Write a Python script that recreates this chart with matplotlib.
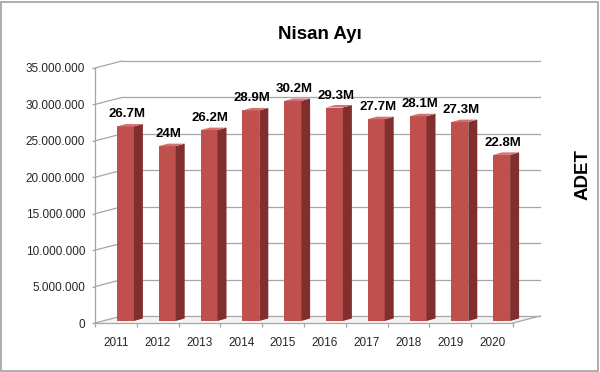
# Nisan Ayi - yearly counts, drawn as a fake 3D column chart (Excel look)
import numpy as np
import matplotlib
matplotlib.use('Agg')
import matplotlib.pyplot as plt
import matplotlib.transforms as mtransforms
from matplotlib.patches import Polygon, Rectangle

# data
years = ['2011', '2012', '2013', '2014', '2015', '2016', '2017', '2018', '2019', '2020']
values = [26.7e6, 24.0e6, 26.2e6, 28.9e6, 30.2e6, 29.3e6, 27.7e6, 28.1e6, 27.3e6, 22.8e6]
bar_labels = ['26.7M', '24M', '26.2M', '28.9M', '30.2M', '29.3M', '27.7M', '28.1M', '27.3M', '22.8M']
y_ticks = [0, 5e6, 10e6, 15e6, 20e6, 25e6, 30e6, 35e6]

plt.rcParams['font.family'] = ['Liberation Sans', 'DejaVu Sans']

W, H, DPI = 600, 372, 100
fig = plt.figure(figsize=(W / DPI, H / DPI), dpi=DPI)

# front plane of the plot box, in pixels
left_px, right_px, top_px, bottom_px = 95, 513, 68, 323
ax = fig.add_axes([left_px / W, 1 - bottom_px / H,
                   (right_px - left_px) / W, (bottom_px - top_px) / H])
n = len(years)
ymax = 35e6
ax.set_xlim(0, n)
ax.set_ylim(0, ymax)

# pixel -> data conversion
px_x = n / (right_px - left_px)
px_y = ymax / (bottom_px - top_px)

def shifted(dx, dy):
    return ax.transData + mtransforms.ScaledTranslation(dx / DPI, dy / DPI, fig.dpi_scale_trans)

grid_c = '#a6a6a6'
depth = (27, 7)   # back wall offset in px

# back wall grid and left wall diagonals
back = shifted(*depth)
for t in y_ticks:
    ax.plot([0, n], [t, t], color=grid_c, lw=0.9, transform=back, zorder=1, clip_on=False)
    ax.plot([0, depth[0] * px_x], [t, t + depth[1] * px_y], color=grid_c, lw=0.9,
            zorder=1, clip_on=False)
# floor right edge
ax.plot([n, n + depth[0] * px_x], [0, depth[1] * px_y], color=grid_c, lw=0.9,
        zorder=1, clip_on=False)
floor = Polygon([(0, 0), (n, 0), (n + depth[0] * px_x, depth[1] * px_y),
                 (depth[0] * px_x, depth[1] * px_y)], closed=True,
                facecolor='#f4f4f4', edgecolor='none', zorder=0.5, clip_on=False)
ax.add_patch(floor)

# columns
x = np.arange(n) + 0.5
bw = 17 * px_x
front = shifted(9.5, 2)
ax.bar(x, values, width=bw, color='#c0504d', edgecolor='none', zorder=3,
       transform=front, clip_on=False)
sx, sy = 9 * px_x, 2.5 * px_y
for xi, v in zip(x, values):
    xl, xr = xi - bw / 2, xi + bw / 2
    side = Polygon([(xr, 0), (xr + sx, sy), (xr + sx, v + sy), (xr, v)], closed=True,
                   facecolor='#7f2f2d', edgecolor='none', zorder=3, transform=front,
                   clip_on=False)
    top = Polygon([(xl, v), (xr, v), (xr + sx, v + sy), (xl + sx, v + sy)], closed=True,
                  facecolor='#d27370', edgecolor='none', zorder=3, transform=front,
                  clip_on=False)
    ax.add_patch(side)
    ax.add_patch(top)

for xi, v, lab in zip(x, values, bar_labels):
    ax.annotate(lab, (xi, v), xytext=(1, 6.5), textcoords='offset points',
                xycoords=front, ha='center', va='baseline', fontsize=9.5,
                fontweight='bold', color='black', zorder=5, annotation_clip=False)

# axes styling
for s in ['top', 'right']:
    ax.spines[s].set_visible(False)
for s in ['left', 'bottom']:
    ax.spines[s].set_color(grid_c)
    ax.spines[s].set_linewidth(0.9)
ax.set_facecolor('none')

ax.set_yticks(y_ticks)
ax.set_yticklabels(['0' if t == 0 else f'{int(t):,}'.replace(',', '.') for t in y_ticks])
ax.tick_params(axis='y', length=2.5, width=0.9, color=grid_c, pad=4.5,
               labelsize=8.5, labelcolor='#262626')

ax.set_xticks(x)
ax.set_xticklabels(years)
ax.set_xticks(np.arange(n + 1), minor=True)
ax.tick_params(axis='x', which='major', length=0, pad=10, labelsize=8.5, labelcolor='#262626')
ax.tick_params(axis='x', which='minor', length=3, width=0.9, color=grid_c)

fig.text(320 / W, 1 - 39 / H, 'Nisan Ayı', ha='center', va='baseline',
         fontsize=13.5, fontweight='bold')
fig.text(583 / W, 1 - 175 / H, 'ADET', ha='center', va='center', rotation=90,
         fontsize=13.5, fontweight='bold')

fig.add_artist(Rectangle((1 / W, 1 / H), 1 - 3 / W, 1 - 3 / H, transform=fig.transFigure,
                         fill=False, edgecolor='#a0a0a0', lw=1.2))

fig.savefig('out.png', dpi=DPI)
